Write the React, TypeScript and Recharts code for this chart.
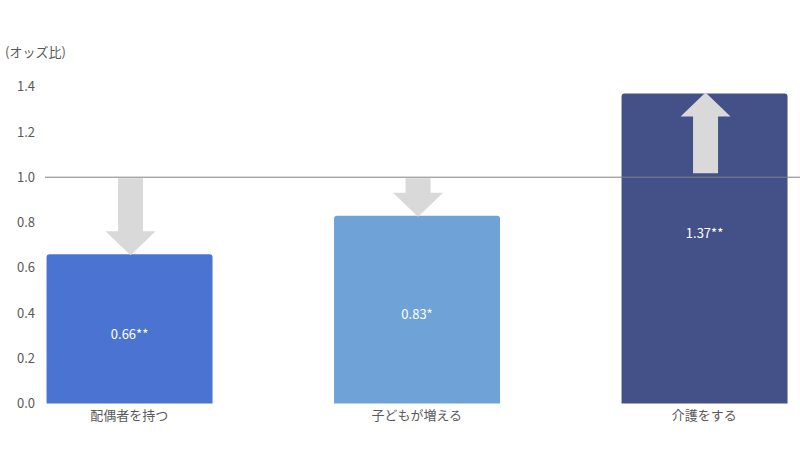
import React from "react";
import { BarChart, Bar, XAxis, YAxis, ReferenceLine, LabelList } from "recharts";

const categories = ["配偶者を持つ", "子どもが増える", "介護をする"];
const oddsRatios = [0.66, 0.83, 1.37];
const significance = ["**", "*", "**"];
const yTicks = [0, 0.2, 0.4, 0.6, 0.8, 1.0, 1.2, 1.4];
const baseline = 1.0;

const COLORS = ["#4b74d2", "#6fa3d8", "#445189"];
const ARROW = "#d9d9d9";
const LABEL_FRAC = [0.468, 0.479, 0.552];
const FONT = '"Noto Sans CJK JP", "Noto Sans", sans-serif';

const data = categories.map((name, i) => ({
  idx: i,
  name,
  value: oddsRatios[i],
  sig: significance[i],
}));

function BarShape(props: any) {
  const { x, y, width, height, index, payload } = props;
  const v = payload.value;
  const r = 3;
  const w = width;
  const h = height;
  const path = `M${x},${y + h} L${x},${y + r} Q${x},${y} ${x + r},${y} L${x + w - r},${y} Q${x + w},${y} ${x + w},${y + r} L${x + w},${y + h} Z`;
  const yBase = y + h;
  const unit = h / v;
  const yOne = yBase - unit * baseline;
  const cx = x + w / 2 + 1;
  const sw = 25;
  const hw = 50;
  const hl = 24;
  let pts: number[][];
  if (v < baseline) {
    const top = yOne + 1;
    const tip = y + 1;
    const hb = tip - hl;
    pts = [
      [cx - sw / 2, top],
      [cx + sw / 2, top],
      [cx + sw / 2, hb],
      [cx + hw / 2, hb],
      [cx, tip],
      [cx - hw / 2, hb],
      [cx - sw / 2, hb],
    ];
  } else {
    const bottom = yOne - 4;
    const tip = y - 1;
    const hb = tip + hl;
    pts = [
      [cx - sw / 2, bottom],
      [cx + sw / 2, bottom],
      [cx + sw / 2, hb],
      [cx + hw / 2, hb],
      [cx, tip],
      [cx - hw / 2, hb],
      [cx - sw / 2, hb],
    ];
  }
  return (
    <g>
      <path d={path} fill={COLORS[index % COLORS.length]} />
      <polygon points={pts.map((p) => p.join(",")).join(" ")} fill={ARROW} />
    </g>
  );
}

function ValueLabel(props: any) {
  const { x, y, width, height, index } = props;
  const d = data[index];
  const ty = y + height - height * LABEL_FRAC[index];
  return (
    <text
      x={x + width / 2}
      y={ty}
      textAnchor="middle"
      dominantBaseline="central"
      fill="#ffffff"
      fontSize={13}
      fontFamily={FONT}
    >
      {d.value.toFixed(2) + d.sig}
    </text>
  );
}

export default function App() {
  return (
    <div style={{ position: "absolute", left: 0, top: 0, width: 800, height: 450, background: "#fff", fontFamily: FONT }}>
      <div
        style={{
          position: "absolute",
          left: 5,
          top: 43,
          fontSize: 13,
          color: "#595959",
          fontFamily: FONT,
          lineHeight: "18px",
        }}
      >
        (オッズ比)
      </div>
      <BarChart
        width={800}
        height={450}
        data={data}
        margin={{ top: 86.7, right: 0, bottom: 16.5, left: 0 }}
      >
        <XAxis
          type="number"
          dataKey="idx"
          domain={[-0.2932, 2.3329]}
          allowDataOverflow
          ticks={[0, 1, 2]}
          tickFormatter={(i: number) => categories[i] ?? ""}
          axisLine={false}
          tickLine={false}
          tickSize={0}
          tickMargin={7}
          height={30}
          tick={{ fill: "#595959", fontSize: 13, fontFamily: FONT }}
          interval={0}
        />
        <YAxis
          type="number"
          domain={[0, 1.4]}
          ticks={yTicks}
          tickFormatter={(v: number) => v.toFixed(1)}
          axisLine={false}
          tickLine={false}
          tickSize={0}
          tickMargin={10}
          width={45}
          tick={{ fill: "#595959", fontSize: 13, fontFamily: FONT }}
          interval={0}
        />
        <Bar dataKey="value" barSize={166} shape={<BarShape />} isAnimationActive={false}>
          <LabelList dataKey="value" content={<ValueLabel />} />
        </Bar>
        <ReferenceLine y={baseline} stroke="#808080" strokeWidth={1} ifOverflow="extendDomain" />
      </BarChart>
    </div>
  );
}
